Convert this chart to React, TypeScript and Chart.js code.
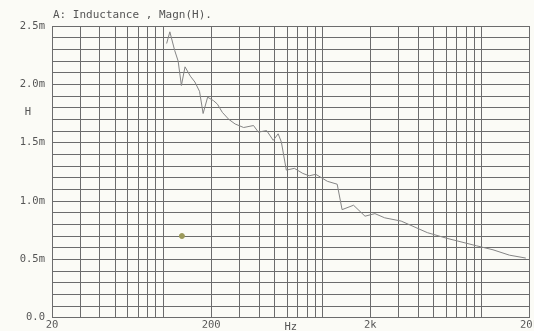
import React, { useEffect, useRef } from "react";
import { Chart, registerables } from "chart.js";

Chart.register(...registerables);

const TITLE = "A: Inductance , Magn(H).";
const Y_UNIT = "H";
const X_UNIT = "Hz";

// frequency (Hz)
const freq = [105, 110, 118, 124, 130, 137, 148, 158, 169, 178, 190, 207, 219, 235, 258, 283, 320, 369, 396, 446, 491, 527, 552, 593, 667, 752, 826, 908, 1000, 1074, 1238, 1329, 1568, 1852, 2137, 2461, 3124, 4560, 6066, 9300, 11790, 14960, 18950];
// inductance (mH)
const induct = [2.35, 2.45, 2.29, 2.2, 1.99, 2.15, 2.07, 2.02, 1.94, 1.75, 1.89, 1.86, 1.83, 1.76, 1.7, 1.66, 1.63, 1.647, 1.59, 1.604, 1.52, 1.576, 1.506, 1.265, 1.28, 1.237, 1.216, 1.229, 1.195, 1.169, 1.144, 0.926, 0.964, 0.87, 0.892, 0.856, 0.828, 0.729, 0.68, 0.616, 0.582, 0.536, 0.511];

const markFreq = [131];
const markVal = [0.70];

const xLabels: Record<number, string> = { 20: "20", 200: "200", 2000: "2k", 20000: "20k" };

const FONT = '"DejaVu Sans Mono", monospace';
const TEXT = "#555555";
const GRID = "#6c6c6c";

export default function App() {
  const ref = useRef<HTMLCanvasElement>(null);
  useEffect(() => {
    if (!ref.current) return;
    const bg = {
      id: "bg",
      beforeDraw(chart: any) {
        const c = chart.ctx;
        c.save();
        c.fillStyle = "#fbfbf6";
        c.fillRect(0, 0, chart.width, chart.height);
        c.restore();
      },
      afterDraw(chart: any) {
        const c = chart.ctx;
        const xs = chart.scales.x;
        const ys = chart.scales.y;
        c.save();
        c.fillStyle = TEXT;
        c.font = `11px ${FONT}`;
        c.textBaseline = "middle";
        c.textAlign = "left";
        c.fillText(TITLE, chart.chartArea.left + 1, 15);
        c.font = `10.5px ${FONT}`;
        c.textAlign = "center";
        c.fillText(Y_UNIT, 28, ys.getPixelForValue(1.76));
        c.fillText(X_UNIT, xs.getPixelForValue(Math.sqrt(200 * 2000)), 327);
        c.restore();
      },
    };
    const chart = new Chart(ref.current, {
      type: "line",
      data: {
        datasets: [
          {
            data: freq.map((f, i) => ({ x: f, y: induct[i] })),
            borderColor: "#858585",
            borderWidth: 1,
            pointRadius: 0,
            tension: 0,
          },
          {
            data: markFreq.map((f, i) => ({ x: f, y: markVal[i] })),
            showLine: false,
            pointRadius: 2.5,
            pointBackgroundColor: "#9c9a5a",
            pointBorderColor: "#9c9a5a",
          },
        ],
      },
      options: {
        animation: false,
        responsive: false,
        layout: { padding: { top: 26, right: 3, left: 0, bottom: 0 } },
        plugins: { legend: { display: false }, tooltip: { enabled: false } },
        scales: {
          x: {
            type: "logarithmic",
            min: 20,
            max: 20000,
            afterBuildTicks(scale: any) {
              const t: any[] = [];
              for (const d of [10, 100, 1000, 10000]) {
                for (let m = 1; m <= 9; m++) {
                  const v = d * m;
                  if (v >= 20 && v <= 20000) t.push({ value: v });
                }
              }
              scale.ticks = t;
            },
            afterFit(scale: any) {
              scale.height = 10;
            },
            grid: { color: GRID, lineWidth: 1, drawTicks: false },
            border: { color: GRID },
            ticks: {
              autoSkip: false,
              maxRotation: 0,
              padding: 1,
              color: TEXT,
              font: { family: FONT, size: 10.5 },
              callback: (v: any) => xLabels[Math.round(Number(v))] ?? "",
            },
          },
          y: {
            min: 0,
            max: 2.5,
            afterFit(scale: any) {
              scale.width = 52;
            },
            grid: { color: GRID, lineWidth: 1, drawTicks: false },
            border: { color: GRID },
            ticks: {
              stepSize: 0.1,
              autoSkip: false,
              padding: 7,
              color: TEXT,
              font: { family: FONT, size: 10.5 },
              callback: (v: any) => {
                const n = Number(v);
                if (Math.abs(n * 2 - Math.round(n * 2)) > 1e-6) return "";
                if (Math.abs(n) < 1e-9) return "0.0";
                return n.toFixed(1) + "m";
              },
            },
          },
        },
      },
      plugins: [bg],
    } as any);
    return () => chart.destroy();
  }, []);
  return (
    <div style={{ position: "fixed", left: 0, top: 0, width: 534, height: 331, overflow: "hidden", background: "#fbfbf6" }}>
      <canvas ref={ref} width={540} height={331} style={{ display: "block" }} />
    </div>
  );
}
